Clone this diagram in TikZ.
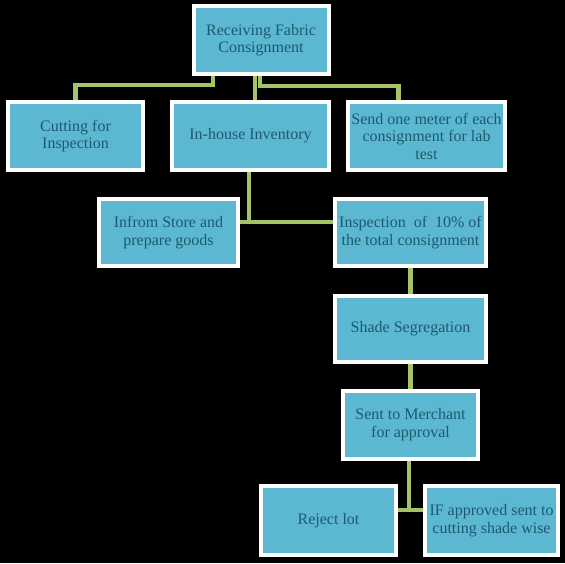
\documentclass[tikz,border=0pt]{standalone}
\usepackage{fontspec}
\setmainfont{Liberation Serif}
\usetikzlibrary{positioning}

\definecolor{boxfill}{HTML}{5BB8D0}
\definecolor{boxtext}{HTML}{1D5A6E}
\definecolor{linkgreen}{HTML}{A4C466}

\begin{document}
\begin{tikzpicture}[x=1pt,y=-1pt,node distance=96pt,
	main node/.style={rectangle,draw=white,line width=4pt,fill=boxfill,
		text=boxtext,font=\fontsize{16}{17.5}\selectfont,align=center,
		inner sep=1pt,minimum width=135pt,minimum height=68pt},
	link/.style={draw=linkgreen,line width=4.5pt}]
	
	\fill[black] (0,0) rectangle (565,563);
	\useasboundingbox (0,0) rectangle (565,563);
	
	\node[main node] (root) at (261,40) {Receiving Fabric\\Consignment};
	\node[main node] (cut) at (75.5,136) [minimum width=135pt] {Cutting for\\Inspection};
	\node[main node] (inv) at (250.5,136) [minimum width=157pt] {In-house Inventory};
	\node[main node] (lab) at (426.5,136) [minimum width=157pt] {Send one meter of each\\consignment for lab\\test};
	\node[main node] (store) at (168.5,232.5) [minimum width=139pt,minimum height=67pt] {Infrom Store and\\prepare goods};
	\node[main node] (insp) at (410.5,232.5) [minimum width=151pt,minimum height=67pt] {Inspection~ of~ 10\% of\\the total consignment};
	\node[main node] (shade) [below of=insp,minimum width=151pt,minimum height=66pt] {Shade Segregation};
	\node[main node] (merch) [below of=shade] {Sent to Merchant\\for approval};
	\node[main node] (reject) at (328.5,520.5) [minimum height=69pt] {Reject lot};
	\node[main node] (cutw) at (491.5,520.5) [minimum width=133pt,minimum height=69pt] {IF approved sent to\\cutting shade wise};
	
	\coordinate (jn) at (249,222);
	\coordinate (jm) at (409,510);
	
	\path[link]
	([xshift=-48pt]root.south) |- ([yshift=15pt]cut.north) -- (cut.north)
	([xshift=-6pt]root.south) -- ([xshift=-6pt]root.south |- inv.north)
	([xshift=-1pt]root.south) |- ([xshift=-28pt,yshift=14pt]lab.north) -- ([xshift=-28pt]lab.north)
	(inv.south -| jn) -- (jn)
	(store.east |- jn) -- (insp.west |- jn)
	(insp.south) -- (shade.north)
	(shade.south) -- (merch.north)
	(merch.south -| jm) -- ([yshift=-2pt]jm)
	(reject.east |- jm) -- (cutw.west |- jm);
\end{tikzpicture}
\end{document}
